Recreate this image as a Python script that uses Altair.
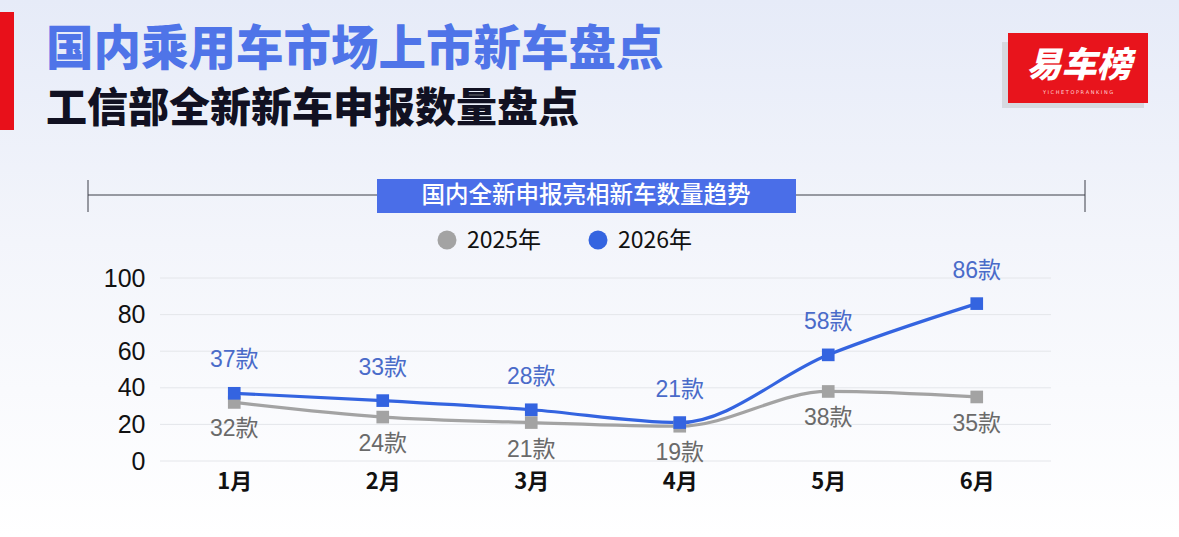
import altair as alt
import pandas as pd

months = ["1月", "2月", "3月", "4月", "5月", "6月"]
v2025 = [32, 24, 21, 19, 38, 35]
v2026 = [37, 33, 28, 21, 58, 86]
series = ["2025年", "2026年"]
y_ticks = [0, 20, 40, 60, 80, 100]
title1 = "国内乘用车市场上市新车盘点"
title2 = "工信部全新新车申报数量盘点"
box_title = "国内全新申报亮相新车数量趋势"
logo = "易车榜"
logo_sub = "Y I C H E   T O P   R A N K I N G"

rows = []
for m, a, b in zip(months, v2025, v2026):
    rows.append({"month": m, "series": series[0], "value": a, "label": f"{a}款"})
    rows.append({"month": m, "series": series[1], "value": b, "label": f"{b}款"})
df = pd.DataFrame(rows)

CJK = "Noto Sans CJK SC"
NUMF = "Liberation Sans, Noto Sans CJK SC"
PL, PT = 160, 278  # plot origin in page pixels
W, H = 891, 183

def px(x):
    return x - PL

def py(y):
    return y - PT

one = alt.Data(values=[{"k": 1}])

color = alt.Color("series:N", scale=alt.Scale(domain=series, range=["#a3a3a3", "#3464e0"]), legend=None)
xaxis = alt.Axis(title=None, labelAngle=0, labelFont=CJK, labelFontWeight="bold",
                 labelFontSize=22, labelColor="#111111", ticks=False, domain=False,
                 grid=False, labelPadding=10, zindex=1, labelOverlap=False)
xenc = alt.X("month:N", sort=months, scale=alt.Scale(type="point", padding=0.5), axis=xaxis)
yscale = alt.Scale(domain=[0, 100])
yaxis = alt.Axis(title=None, values=y_ticks, labelFont="Liberation Sans",
                 labelFontSize=25, labelColor="#111111", ticks=False, domain=False,
                 grid=False, labelPadding=15, zindex=1, labelOverlap=False,
                 labelFlush=False)
yenc = alt.Y("value:Q", scale=yscale, axis=yaxis)

base = alt.Chart(df)

bg = alt.Chart(one).mark_rect(
    fill=alt.Gradient(gradient="linear", x1=0, x2=0, y1=0, y2=1,
                      stops=[alt.GradientStop(color="#e6ebf8", offset=0),
                             alt.GradientStop(color="#f3f5fb", offset=0.45),
                             alt.GradientStop(color="#ffffff", offset=1)])
).encode(x=alt.value(px(0)), x2=alt.value(px(1179)), y=alt.value(py(0)), y2=alt.value(py(537)))

grid = alt.Chart(pd.DataFrame({"value": y_ticks})).mark_rule(color="#e4e6ea", strokeWidth=1).encode(
    y=yenc, x=alt.value(0), x2=alt.value(W))

redbar = alt.Chart(one).mark_rect(color="#e8101a").encode(
    x=alt.value(px(0)), x2=alt.value(px(14)), y=alt.value(py(12)), y2=alt.value(py(130)))

t1 = alt.Chart(one).mark_text(text=title1, font=CJK, fontWeight=900, fontSize=47.5, color="#4f74e8",
                              align="left", baseline="middle").encode(x=alt.value(px(46)), y=alt.value(py(51)))
t2 = alt.Chart(one).mark_text(text=title2, font=CJK, fontWeight=900, fontSize=41, color="#111122",
                              align="left", baseline="middle").encode(x=alt.value(px(46)), y=alt.value(py(110)))

logo_shadow = alt.Chart(one).mark_rect(color="#d6d9e0").encode(
    x=alt.value(px(1002)), x2=alt.value(px(1144)), y=alt.value(py(42)), y2=alt.value(py(108)))
logo_box = alt.Chart(one).mark_rect(color="#e8141c").encode(
    x=alt.value(px(1008)), x2=alt.value(px(1148)), y=alt.value(py(33)), y2=alt.value(py(103)))
logo_t = alt.Chart(one).mark_text(text=logo, font=CJK, fontWeight=900, fontSize=35, color="#ffffff",
                                  fontStyle="italic", align="center", baseline="middle").encode(
    x=alt.value(px(1079)), y=alt.value(py(66)))
logo_s = alt.Chart(one).mark_text(text=logo_sub, font="DejaVu Sans", fontSize=5, color="#ffd6d6",
                                  align="center", baseline="middle").encode(
    x=alt.value(px(1078)), y=alt.value(py(92)))

hline = alt.Chart(one).mark_rule(color="#3c3f48", strokeWidth=1).encode(
    x=alt.value(px(88)), x2=alt.value(px(1085)), y=alt.value(py(195)))
tickl = alt.Chart(one).mark_rule(color="#3c3f48", strokeWidth=1).encode(
    x=alt.value(px(88)), y=alt.value(py(180)), y2=alt.value(py(212)))
tickr = alt.Chart(one).mark_rule(color="#3c3f48", strokeWidth=1).encode(
    x=alt.value(px(1085)), y=alt.value(py(180)), y2=alt.value(py(212)))
box = alt.Chart(one).mark_rect(color="#4a6ee8").encode(
    x=alt.value(px(377)), x2=alt.value(px(796)), y=alt.value(py(179)), y2=alt.value(py(213)))
box_t = alt.Chart(one).mark_text(text=box_title, font=CJK, fontWeight=500, fontSize=23.5, color="#ffffff",
                                 align="center", baseline="middle").encode(
    x=alt.value(px(586)), y=alt.value(py(196)))

leg_df = pd.DataFrame({"series": series, "cx": [px(447), px(598)], "tx": [px(467), px(618)]})
leg_dot = alt.Chart(leg_df).mark_circle(size=360, opacity=1).encode(
    x=alt.X("cx:Q", scale=None), y=alt.value(py(240)), color=color)
leg_txt = alt.Chart(leg_df).mark_text(font=CJK, fontSize=23, color="#111111", align="left",
                                      baseline="middle").encode(
    x=alt.X("tx:Q", scale=None), y=alt.value(py(241)), text="series:N")

lines = base.mark_line(interpolate="monotone", strokeWidth=3.2).encode(x=xenc, y=yenc, color=color)
pts = base.mark_square(size=160, opacity=1).encode(x=xenc, y=yenc, color=color)

lab26 = base.transform_filter(alt.datum.series == series[1]).mark_text(
    font=NUMF, fontSize=23, color="#4a6bc9", dy=-33, baseline="middle").encode(
    x=xenc, y=yenc, text="label:N")
lab25 = base.transform_filter(alt.datum.series == series[0]).mark_text(
    font=NUMF, fontSize=23, color="#6a6a6a", dy=27, baseline="middle").encode(
    x=xenc, y=yenc, text="label:N")

chart = alt.layer(
    bg, grid, redbar, t1, t2, logo_shadow, logo_box, logo_t, logo_s,
    hline, tickl, tickr, box, box_t, leg_dot, leg_txt,
    lines, pts, lab26, lab25
).properties(
    width=W, height=H,
    autosize=alt.AutoSizeParams(type="none"),
    padding={"left": PL, "top": PT, "right": 1179 - PL - W, "bottom": 537 - PT - H},
    background="#ffffff",
).configure_view(stroke=None)

chart.save("out.html", embed_options={"renderer": "svg", "actions": False})
